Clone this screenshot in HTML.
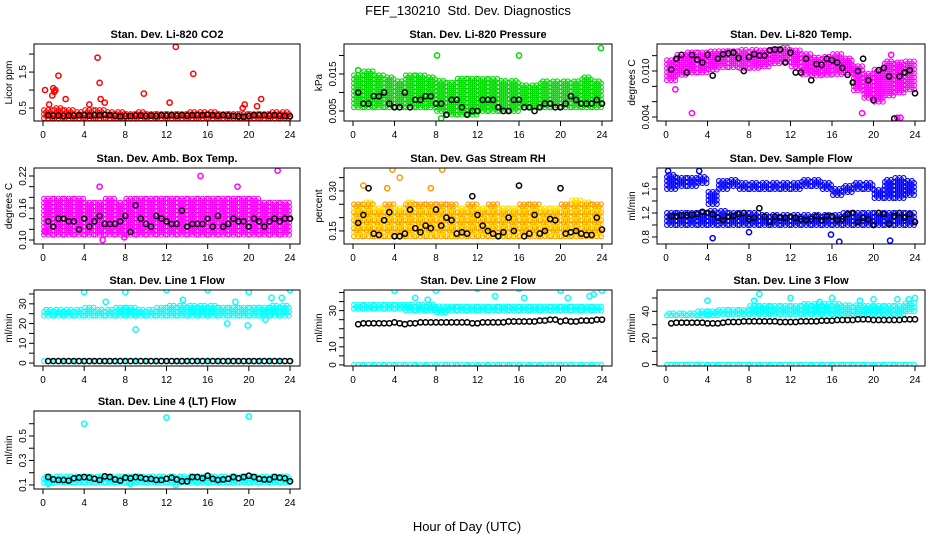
<!DOCTYPE html>
<html><head><meta charset="utf-8">
<style>
html,body{margin:0;padding:0;background:#fff;}
svg{display:block;font-family:"Liberation Sans",Arial,sans-serif;}
</style></head>
<body>
<svg id="chart" width="936" height="540" viewBox="0 0 936 540" xmlns="http://www.w3.org/2000/svg">
<text x="468" y="15" font-size="13" text-anchor="middle" xml:space="preserve">FEF_130210  Std. Dev. Diagnostics</text>
<text x="467" y="531" font-size="13" text-anchor="middle">Hour of Day (UTC)</text>
</svg>
<script>
// ---- data (hourly cloud ranges, half-hourly black series, outliers) ----
const co2Lo=[0.22,0.22,0.22,0.22,0.22,0.22,0.22,0.22,0.22,0.22,0.22,0.22,0.22,0.22,0.22,0.22,0.22,0.22,0.22,0.22,0.22,0.22,0.22,0.22];
const co2Hi=[0.45,0.5,0.45,0.42,0.45,0.45,0.42,0.38,0.35,0.38,0.35,0.36,0.35,0.36,0.38,0.38,0.38,0.36,0.35,0.36,0.36,0.36,0.38,0.38];
const co2Black=[0.3,0.29,0.29,0.28,0.29,0.29,0.3,0.3,0.29,0.3,0.3,0.31,0.3,0.29,0.27,0.28,0.28,0.29,0.29,0.28,0.29,0.28,0.3,0.29,0.3,0.29,0.3,0.29,0.3,0.3,0.3,0.31,0.3,0.29,0.3,0.29,0.28,0.27,0.26,0.28,0.3,0.3,0.3,0.29,0.3,0.29,0.28,0.27];
const co2OutX=[0.2,0.6,0.9,1.0,1.1,1.2,1.5,2.2,4.5,5.3,5.5,5.6,6.0,9.8,12.3,12.9,14.6,19.4,19.6,20.8,21.2];
const co2OutY=[1.0,0.6,0.85,1.05,0.95,1.0,1.4,0.75,0.6,1.9,1.2,0.75,0.65,0.9,0.65,2.2,1.45,0.5,0.6,0.55,0.75];

const presLo=[0.006,0.006,0.006,0.006,0.006,0.006,0.006,0.006,0.005,0.004,0.004,0.004,0.005,0.005,0.005,0.005,0.006,0.006,0.006,0.006,0.006,0.006,0.006,0.006];
const presHi=[0.015,0.016,0.015,0.014,0.013,0.015,0.015,0.014,0.013,0.013,0.014,0.014,0.014,0.014,0.013,0.013,0.012,0.012,0.013,0.013,0.013,0.013,0.014,0.013];
const presBlack=[0.01,0.007,0.007,0.009,0.009,0.01,0.007,0.006,0.006,0.01,0.006,0.008,0.008,0.009,0.009,0.007,0.007,0.004,0.008,0.008,0.006,0.004,0.005,0.005,0.008,0.008,0.008,0.006,0.005,0.005,0.008,0.008,0.006,0.006,0.005,0.006,0.007,0.007,0.006,0.006,0.007,0.009,0.008,0.007,0.007,0.007,0.008,0.007];
const presOutX=[8.1,16.0,23.9,8.5,0.5];
const presOutY=[0.020,0.020,0.022,0.003,0.016];

const tmpLo=[0.0088,0.0095,0.0098,0.0098,0.0102,0.0105,0.0105,0.0104,0.0104,0.0106,0.011,0.0112,0.0106,0.0096,0.0094,0.0095,0.0096,0.0098,0.0075,0.0065,0.006,0.0068,0.0072,0.0076];
const tmpHi=[0.0115,0.0122,0.0124,0.0126,0.0126,0.0126,0.0126,0.0127,0.0127,0.0128,0.013,0.013,0.0128,0.0122,0.0118,0.012,0.0124,0.0116,0.0108,0.0098,0.0102,0.0112,0.0112,0.0114];
const tmpBlack=[0.0102,0.0116,0.0121,0.0098,0.0121,0.0115,0.0111,0.0121,0.0094,0.0116,0.0122,0.0123,0.0124,0.0117,0.01,0.0118,0.0122,0.012,0.012,0.0127,0.0128,0.0128,0.0111,0.0124,0.0098,0.0098,0.0116,0.0088,0.0109,0.0108,0.0116,0.0114,0.0111,0.0104,0.0095,0.0085,0.01,0.0116,0.0088,0.0062,0.0101,0.0104,0.0093,0.0038,0.0093,0.0098,0.0101,0.0071];
const tmpOutX=[2.5,0.9,18.9,22.3,22.6,21.7];
const tmpOutY=[0.0045,0.0076,0.0045,0.0039,0.0039,0.0121];

const ambLo=[0.11,0.11,0.11,0.11,0.11,0.11,0.11,0.11,0.11,0.11,0.11,0.11,0.11,0.11,0.11,0.11,0.11,0.11,0.11,0.11,0.11,0.11,0.11,0.11];
const ambHi=[0.18,0.18,0.18,0.18,0.17,0.17,0.18,0.17,0.18,0.18,0.18,0.18,0.18,0.18,0.18,0.18,0.18,0.18,0.18,0.18,0.18,0.17,0.17,0.17];
const ambBlack=[0.135,0.125,0.14,0.14,0.135,0.135,0.12,0.14,0.125,0.135,0.145,0.13,0.13,0.13,0.135,0.145,0.115,0.165,0.14,0.13,0.125,0.145,0.14,0.135,0.13,0.13,0.155,0.125,0.13,0.13,0.13,0.14,0.125,0.145,0.125,0.13,0.14,0.135,0.135,0.125,0.14,0.135,0.125,0.135,0.14,0.135,0.14,0.14];
const ambOutX=[0.2,5.8,7.9,15.3,22.8,5.5,18.9];
const ambOutY=[0.115,0.1,0.105,0.22,0.23,0.2,0.2];

const rhLo=[0.13,0.13,0.13,0.13,0.13,0.13,0.13,0.13,0.13,0.13,0.13,0.13,0.13,0.13,0.13,0.13,0.13,0.13,0.13,0.13,0.13,0.13,0.13,0.13];
const rhHi=[0.25,0.26,0.24,0.25,0.24,0.26,0.25,0.25,0.25,0.25,0.24,0.25,0.24,0.25,0.24,0.24,0.25,0.25,0.24,0.24,0.25,0.27,0.26,0.25];
const rhBlack=[0.18,0.21,0.31,0.14,0.135,0.19,0.22,0.13,0.13,0.14,0.23,0.16,0.145,0.17,0.16,0.23,0.17,0.2,0.19,0.14,0.145,0.14,0.28,0.21,0.17,0.15,0.14,0.13,0.145,0.2,0.15,0.32,0.13,0.14,0.21,0.14,0.15,0.195,0.19,0.31,0.14,0.145,0.15,0.14,0.135,0.135,0.2,0.155];
const rhOutX=[1.0,3.8,4.5,8.6,3.3,7.5];
const rhOutY=[0.32,0.38,0.35,0.38,0.31,0.31];

const sfLo=[1.0,1.0,1.0,1.0,1.0,1.0,1.0,1.0,1.0,1.0,1.0,1.0,1.0,1.0,1.0,1.0,1.0,1.0,1.0,1.0,1.0,1.0,1.0,1.0];
const sfHi=[1.2,1.2,1.2,1.2,1.25,1.25,1.2,1.2,1.2,1.18,1.18,1.18,1.18,1.18,1.18,1.18,1.18,1.2,1.2,1.2,1.22,1.22,1.22,1.22];
const sfLo2=[1.6,1.65,1.65,1.7,1.35,1.6,1.65,1.6,1.6,1.6,1.6,1.6,1.6,1.65,1.65,1.6,1.5,1.55,1.6,1.6,1.45,1.45,1.45,1.5];
const sfHi2=[1.85,1.8,1.8,1.8,1.55,1.75,1.75,1.7,1.72,1.7,1.7,1.72,1.72,1.75,1.75,1.72,1.62,1.65,1.7,1.72,1.6,1.75,1.8,1.75];
const sfBlack=[1.15,1.15,1.16,1.16,1.17,1.18,1.22,1.2,1.18,1.12,1.08,1.14,1.15,1.18,1.2,1.1,1.12,1.28,1.14,1.05,1.14,1.12,1.12,1.14,1.12,1.1,1.08,1.1,1.15,1.08,1.15,1.15,1.08,1.1,1.18,1.2,1.05,1.12,1.09,1.0,1.2,1.18,1.02,1.15,1.2,1.12,1.18,1.05];
const sfOutX=[4.5,16.7,21.6,15.9,8.0,3.2,0.2];
const sfOutY=[0.78,0.72,0.74,0.84,0.88,1.9,1.9];

const l1Lo=[24,24,24,24,24,24,24,24,24,24,24,24,24,24,24,24,24,24,24,24,24,24,24,24];
const l1Hi=[27,27,27,27,28,27,27,28,28,27,27,28,29,29,29,29,29,28,28,28,28,28,29,29];
const l1Zero=[1,1,1,1,1,1,1,1,1,1,1,1,1,1,1,1,1,1,1,1,1,1,1,1];
const l1Black=[1,1,1,1,1,1,1,1,1,1,1,1,1,1,1,1,1,1,1,1,1,1,1,1,1,1,1,1,1,1,1,1,1,1,1,1,1,1,1,1,1,1,1,1,1,1,1,1];
const l1OutX=[4.0,8.0,12.0,16.0,20.0,24.0,9.0,6.1,13.6,17.9,19.9,21.6,22.2,23.2,18.7];
const l1OutY=[36,36,37,37,36,37,17,31,32,20,19,22,33,33,31];

const l2Lo=[31,31,31,31,31,30,30,30,29,30,30,30,30,30,30,30,30,30,30,30,30,30,30,30];
const l2Hi=[33,33,33,33,34,34,34,34,33,33,33,33,33,33,33,33,33,33,33,33,33,33,33,33];
const l2Zero=[0,0,0,0,0,0,0,0,0,0,0,0,0,0,0,0,0,0,0,0,0,0,0,0];
const l2Black=[22.5,23,23,23,23,23,23,23.5,23,22.5,23,23,23.5,23.5,23.5,23.5,23.5,23.5,23.5,23.5,23.5,23.5,23,23,23.5,23.5,23.5,23.5,23.5,24,24,24,24,24,24,24.5,24.5,25,25,24,24.5,24,24,24.5,24.5,24.5,25,25];
const l2OutX=[4.0,8.0,12.0,16.0,20.0,24.0,6.0,7.2,13.7,16.5,20.7,22.8,23.2];
const l2OutY=[41,41,42,42,41,41,37,36,38,37,37,38,39];

const l3Lo=[37,37,37,37,37,38,38,38,38,38,38,38,38,38,38,38,38,37,37,38,38,38,38,40];
const l3Hi=[39,39,39,40,40,41,41,42,44,45,44,45,45,46,46,46,46,45,45,45,44,44,45,47];
const l3Zero=[0,0,0,0,0,0,0,0,0,0,0,0,0,0,0,0,0,0,0,0,0,0,0,0];
const l3Black=[31,31.5,31.5,31.5,31.5,31.5,31.5,31,31,31,31.5,32,32,32,32.5,32.5,32.5,32.5,32.5,32.5,32.5,32,32,32,32,32.5,32.5,32.5,32.5,33,33,33,33.5,33.5,33.5,33.5,34,34,34,33.5,33.5,33.5,33.5,33.5,33.5,34,34,34];
const l3OutX=[4.0,9.0,12.0,16.0,20.0,24.0,8.5,14.8,18.7,22.3,23.4];
const l3OutY=[48,53,50,50,49,50,48,47,48,49,49];

const l4Lo=[0.12,0.12,0.12,0.12,0.12,0.12,0.12,0.12,0.12,0.12,0.12,0.12,0.12,0.12,0.12,0.12,0.12,0.12,0.12,0.12,0.12,0.12,0.12,0.12];
const l4Hi=[0.18,0.18,0.18,0.18,0.18,0.18,0.18,0.18,0.18,0.18,0.18,0.18,0.18,0.18,0.18,0.18,0.18,0.18,0.18,0.18,0.18,0.18,0.18,0.18];
const l4Black=[0.165,0.145,0.14,0.14,0.135,0.155,0.16,0.165,0.16,0.15,0.14,0.17,0.165,0.145,0.135,0.16,0.155,0.165,0.16,0.15,0.15,0.14,0.14,0.15,0.16,0.145,0.13,0.13,0.165,0.165,0.155,0.175,0.15,0.14,0.145,0.15,0.165,0.155,0.165,0.175,0.165,0.15,0.145,0.145,0.165,0.16,0.155,0.13];
const l4OutX=[4.0,12.0,20.0,0.5,8.5,12.9];
const l4OutY=[0.6,0.65,0.66,0.11,0.11,0.1];

const xTicks=[0,4,8,12,16,20,24];

const cols=[[34,300],[344,612],[657,925]];
const rows=[[44,121],[168,244],[290,366],[411,489]];
const panels=[
 {name:'co2',title:'Stan. Dev. Li-820 CO2',ylab:'Licor ppm',c:0,r:0,dom:[0.14,2.28],ticks:[0.5,1,1.5,2],labels:['0.5','','1.5',''],color:'#ff0000',bands:[[co2Lo,co2Hi]],black:co2Black,ox:co2OutX,oy:co2OutY},
 {name:'pressure',title:'Stan. Dev. Li-820 Pressure',ylab:'kPa',c:1,r:0,dom:[0.0023,0.0231],ticks:[0.005,0.01,0.015,0.02],labels:['0.005','','0.015',''],color:'#00dd00',bands:[[presLo,presHi]],black:presBlack,ox:presOutX,oy:presOutY},
 {name:'temp',title:'Stan. Dev. Li-820 Temp.',ylab:'degrees C',c:2,r:0,dom:[0.00348,0.01352],ticks:[0.004,0.006,0.008,0.01,0.012],labels:['0.004','','','0.010',''],color:'#ff00ff',bands:[[tmpLo,tmpHi]],black:tmpBlack,ox:tmpOutX,oy:tmpOutY},
 {name:'amb-box',title:'Stan. Dev. Amb. Box Temp.',ylab:'degrees C',c:0,r:1,dom:[0.0925,0.235],ticks:[0.1,0.12,0.14,0.16,0.18,0.2,0.22],labels:['0.10','','','0.16','','','0.22'],color:'#ff00ff',bands:[[ambLo,ambHi]],black:ambBlack,ox:ambOutX,oy:ambOutY},
 {name:'rh',title:'Stan. Dev. Gas Stream RH',ylab:'percent',c:1,r:1,dom:[0.101,0.386],ticks:[0.15,0.2,0.25,0.3,0.35],labels:['0.15','','','0.30',''],color:'#ff9900',color2:'#ffdd00',bands:[[rhLo,rhHi]],black:rhBlack,ox:rhOutX,oy:rhOutY},
 {name:'sample-flow',title:'Stan. Dev. Sample Flow',ylab:'ml/min',c:2,r:1,dom:[0.683,1.95],ticks:[0.8,1.0,1.2,1.4,1.6,1.8],labels:['0.8','','1.2','','1.6',''],color:'#0000ff',bands:[[sfLo,sfHi],[sfLo2,sfHi2]],black:sfBlack,ox:sfOutX,oy:sfOutY},
 {name:'line1',title:'Stan. Dev. Line 1 Flow',ylab:'ml/min',c:0,r:2,dom:[-1.5,37],ticks:[0,5,10,15,20,25,30,35],labels:['0','','10','','20','','30',''],color:'#00ffff',bands:[[l1Lo,l1Hi],[l1Zero,l1Zero]],black:l1Black,ox:l1OutX,oy:l1OutY},
 {name:'line2',title:'Stan. Dev. Line 2 Flow',ylab:'ml/min',c:1,r:2,dom:[-0.6,41.4],ticks:[0,5,10,15,20,25,30,35,40],labels:['0','','10','','','','30','',''],color:'#00ffff',bands:[[l2Lo,l2Hi],[l2Zero,l2Zero]],black:l2Black,ox:l2OutX,oy:l2OutY},
 {name:'line3',title:'Stan. Dev. Line 3 Flow',ylab:'ml/min',c:2,r:2,dom:[-1,56],ticks:[0,10,20,30,40,50],labels:['0','','20','','40',''],color:'#00ffff',bands:[[l3Lo,l3Hi],[l3Zero,l3Zero]],black:l3Black,ox:l3OutX,oy:l3OutY},
 {name:'line4',title:'Stan. Dev. Line 4 (LT) Flow',ylab:'ml/min',c:0,r:3,dom:[0.067,0.704],ticks:[0.1,0.2,0.3,0.4,0.5,0.6],labels:['0.1','','0.3','','0.5',''],color:'#00ffff',bands:[[l4Lo,l4Hi]],black:l4Black,ox:l4OutX,oy:l4OutY}
];

const NS='http://www.w3.org/2000/svg';
const svg=document.getElementById('chart');
function mk(tag,attrs,parent){const e=document.createElementNS(NS,tag);for(const k in attrs)e.setAttribute(k,attrs[k]);(parent||svg).appendChild(e);return e;}

panels.forEach(p=>{
 const [L,R]=cols[p.c],[T,B]=rows[p.r];
 const x0=L+9,x1=R-10;
 const xs=h=>x0+(x1-x0)*h/24;
 const ys=v=>B-(B-T)*(v-p.dom[0])/(p.dom[1]-p.dom[0]);
 const g=mk('g',{});
 
 
 const clip='clip-'+p.name;
 const cp=mk('clipPath',{id:clip},g);mk('rect',{x:L,y:T,width:R-L,height:B-T},cp);
 const t=mk('text',{x:(L+R)/2,y:T-6,'font-size':11,'font-weight':'bold','text-anchor':'middle'},g);
 t.textContent=p.title;
 
 
 const yl=mk('text',{x:0,y:0,'font-size':10,'text-anchor':'middle',transform:`translate(${L-22},${(T+B)/2}) rotate(-90)`},g);
 yl.textContent=p.ylab;
 
 
 const pts=mk('g',{'clip-path':`url(#${clip})`},g);
 
 
 // clouds (stipple of open circles)
 p.bands.forEach(([lo,hi])=>{
  for(let h=0;h<24;h++){
   const yTop=ys(hi[h]),yBot=ys(lo[h]);
   for(let k=0;k<5;k++){
    const hx=h+k*0.2+0.1;
    const off=(k%2)*2;
    let n=0;
    for(let y=yBot-off;y>=yTop-0.5;y-=4){
     const col=(p.color2 && (n+k)%2)?p.color2:p.color;
     mk('circle',{cx:xs(hx).toFixed(1),cy:y.toFixed(1),r:2.4,fill:'none',stroke:col,'stroke-width':1.1},pts);
     n++;
    }
   }
  }
 });
 p.ox.forEach((x,i)=>{
  const c=mk('circle',{cx:xs(x),cy:ys(p.oy[i]),r:2.6,fill:'none',stroke:p.color,'stroke-width':1.5},pts);
  
  
 });
 p.black.forEach((v,i)=>{
  const c=mk('circle',{cx:xs(0.5+i*0.5),cy:ys(v),r:2.6,fill:'none',stroke:'#000','stroke-width':1.5},pts);
  
  
 });
 // box
 mk('rect',{x:L,y:T,width:R-L,height:B-T,fill:'none',stroke:'#000','stroke-width':1},g);
 // x axis
 xTicks.forEach(v=>{
  mk('line',{x1:xs(v),x2:xs(v),y1:B,y2:B+5,stroke:'#000'},g);
  const tl=mk('text',{x:xs(v),y:B+17,'font-size':10,'text-anchor':'middle'},g);
  tl.textContent=v;
  
  
 });
 // y axis
 p.ticks.forEach((v,i)=>{
  mk('line',{x1:L-5,x2:L,y1:ys(v),y2:ys(v),stroke:'#000'},g);
  if(p.labels[i]){
   const tl=mk('text',{x:0,y:0,'font-size':10,'text-anchor':'middle',transform:`translate(${L-8},${ys(v)}) rotate(-90)`},g);
   tl.textContent=p.labels[i];
   
   
  }
 });
});
</script>
</body></html>
